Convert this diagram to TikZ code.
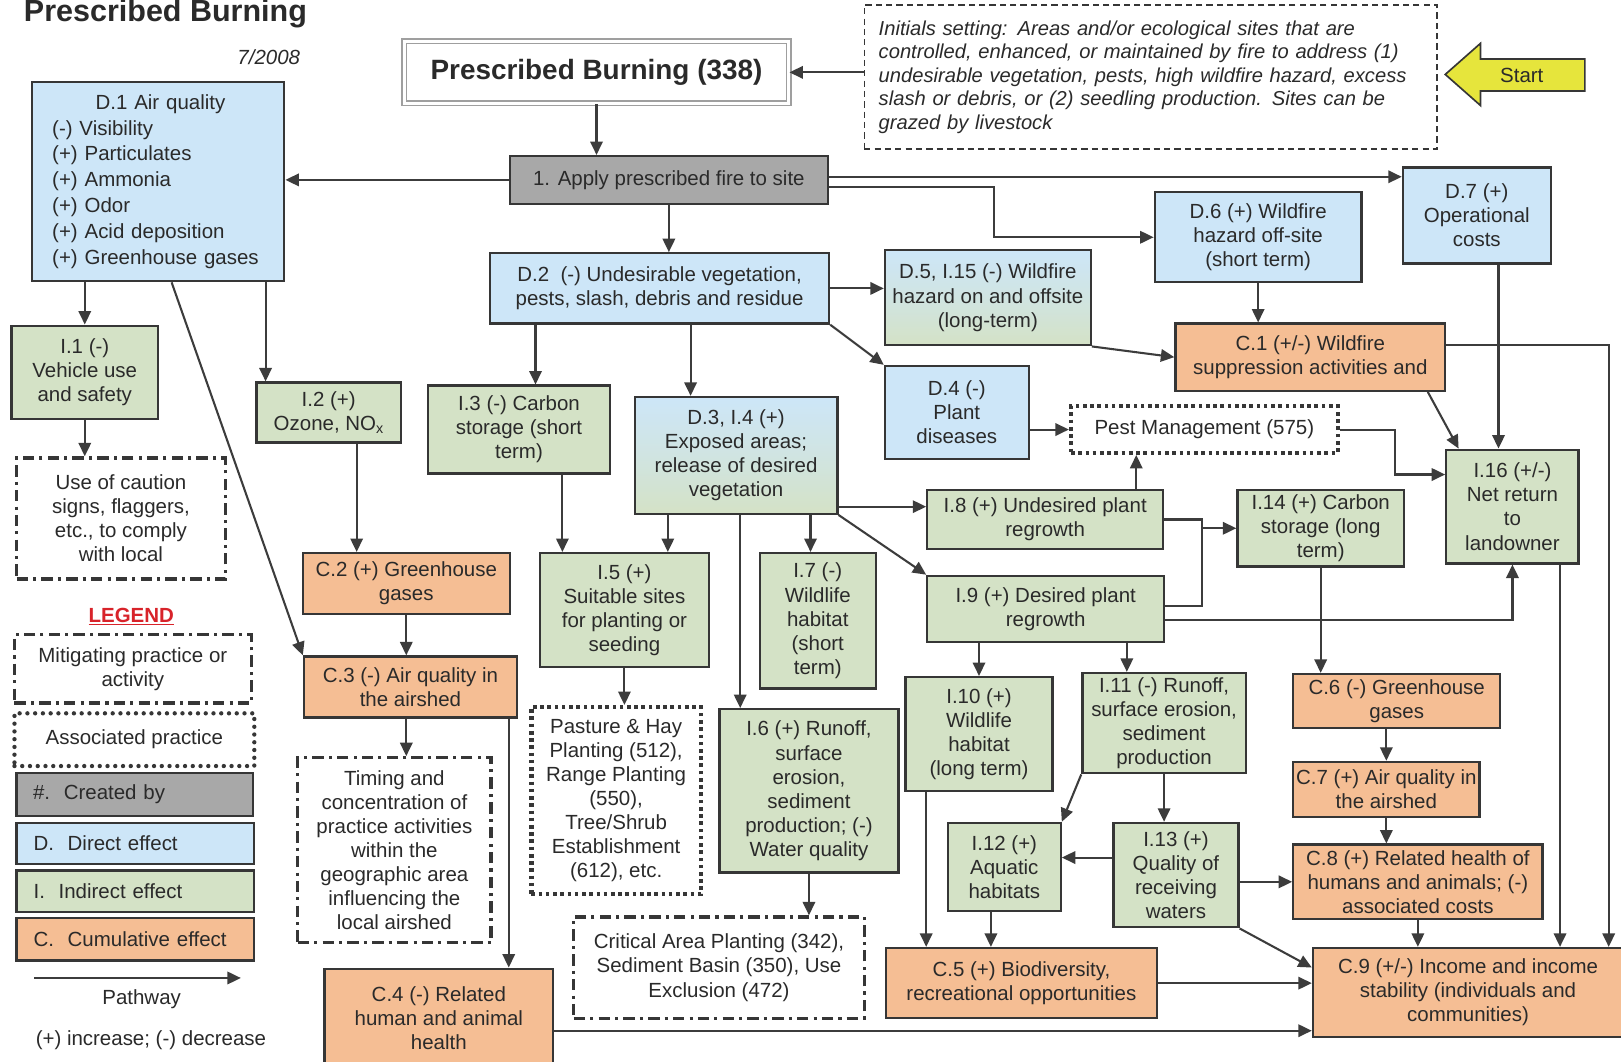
\documentclass[tikz,border=0pt]{standalone}
\usepackage{fontspec}
\setmainfont{Liberation Sans}
\usetikzlibrary{arrows.meta,calc}

\definecolor{blueC}{HTML}{CDE6F8}
\definecolor{greenC}{HTML}{D4E2C6}
\definecolor{orangeC}{HTML}{F5BE94}
\definecolor{grayC}{HTML}{A8A8A8}
\definecolor{edgeC}{HTML}{363636}
\definecolor{inkC}{HTML}{2A2A2A}
\definecolor{lineC}{HTML}{3C3C3C}
\definecolor{startC}{HTML}{E6E53C}
\definecolor{legendred}{HTML}{D8232A}

\newcommand\fs{\fontsize{19.8}{23.3}\selectfont}
% box from its corners: style, name, x1, y1, x2, y2, text
\newcommand\bx[7]{%
  \pgfmathsetmacro\bxw{#5-#3}\pgfmathsetmacro\bxh{#6-#4}%
  \pgfmathsetmacro\bxcx{(#3+#5)/2}\pgfmathsetmacro\bxcy{(#4+#6)/2}%
  \node[#1, minimum width=\bxw pt, minimum height=\bxh pt] (#2) at (\bxcx,\bxcy) {#7};}

\tikzset{
  base/.style={draw=edgeC, line width=2.2pt, inner sep=0pt, align=center, font=\fs, text=inkC},
  dbox/.style={base, fill=blueC},
  ibox/.style={base, fill=greenC},
  cbox/.style={base, fill=orangeC},
  gbox/.style={base, fill=grayC},
  mixbox/.style={base, top color=blueC, bottom color=greenC, middle color=blueC!55!greenC},
  mitbox/.style={base, fill=white, line width=3.2pt, dash pattern=on 11pt off 5pt on 3pt off 5pt},
  assocbox/.style={base, fill=white, line width=4.2pt, dash pattern=on 3.5pt off 3.5pt},
  legassoc/.style={base, fill=white, line width=4.2pt, line cap=round, dash pattern=on 0pt off 7.5pt},
  legtxt/.style={align=left, text width=197pt},
  arr/.style={draw=lineC, line width=2pt, -{Triangle[length=13pt,width=12pt]}},
  link/.style={draw=lineC, line width=2pt},
  plain/.style={font=\fs, text=inkC, inner sep=0pt}
}

\begin{document}
\begin{tikzpicture}[x=1pt, y=-1pt]
\fill[white] (0,0) rectangle (1568,1027);
\useasboundingbox (0,0) rectangle (1568,1027);

% headings
\node[plain, anchor=base west, font=\bfseries\fontsize{29.5}{32}\selectfont] (title) at (23,21) {Prescribed Burning};
\node[plain, anchor=base, font=\itshape\fs] (date) at (260,62) {7/2008};

\node[draw=gray!75, double=white, double distance=3pt, line width=1.3pt, inner sep=0pt,
      minimum width=372pt, minimum height=60pt, text=inkC,
      font=\bfseries\fontsize{27}{30}\selectfont] (pb) at (577,70) {Prescribed Burning (338)};

\node[base, fill=white, line width=1.4pt, dash pattern=on 6pt off 4pt, minimum width=554pt,
      minimum height=139pt, text width=526pt, align=left, font=\itshape\fontsize{19.5}{22.8}\selectfont] (init) at (1113,74.5)
  {Initials setting: Areas and/or ecological sites that are\\controlled, enhanced, or maintained by fire to address (1)\\undesirable vegetation, pests, high wildfire hazard, excess\\slash or debris, or (2) seedling production. Sites can be\\grazed by livestock};

% start arrow
\draw[draw=edgeC, line width=1.6pt, fill=startC, line join=miter]
  (1398,72) -- (1432,42) -- (1432,57) -- (1533,57) -- (1533,88) -- (1432,88) -- (1432,102) -- cycle;
\node[plain] (startlbl) at (1472,73) {Start};

% boxes
\bx{gbox}{apply}{493}{151}{801}{197}{1. Apply prescribed fire to site}
\bx{dbox, align=left, text width=205pt, font=\fontsize{19.8}{25}\selectfont}{d1}{31}{79}{275}{272}{\hspace*{42pt}D.1 Air quality\\(-) Visibility\\(+) Particulates\\(+) Ammonia\\(+) Odor\\(+) Acid deposition\\(+) Greenhouse gases}
\bx{dbox}{d2}{474}{245}{802}{313}{D.2\ \ (-) Undesirable vegetation,\\pests, slash, debris and residue}
\bx{dbox}{d7}{1357}{162}{1500}{255}{D.7 (+)\\Operational\\costs}
\bx{dbox}{d6}{1117}{186}{1317}{273}{D.6 (+) Wildfire\\hazard off-site\\(short term)}
\bx{mixbox}{d5}{856}{242}{1055}{334}{D.5, I.15 (-) Wildfire\\hazard on and offsite\\(long-term)}
\bx{dbox}{d4}{856}{354}{995}{444}{D.4 (-)\\Plant\\diseases}
\bx{cbox}{c1}{1137}{313}{1398}{378}{C.1 (+/-) Wildfire\\suppression activities and}
\bx{assocbox}{pm}{1036}{393}{1294}{438}{Pest Management (575)}
\bx{ibox}{i16}{1399}{435}{1527}{545}{I.16 (+/-)\\Net return\\to\\landowner}
\bx{ibox}{i1}{11}{315}{153}{405}{I.1 (-)\\Vehicle use\\and safety}
\bx{mitbox}{caution}{16}{443}{218}{560}{Use of caution\\signs, flaggers,\\etc., to comply\\with local}
\bx{ibox}{i2}{248}{370}{388}{428}{I.2 (+)\\Ozone, NO\textsubscript{x}}
\bx{ibox}{i3}{414}{373}{590}{458}{I.3 (-) Carbon\\storage (short\\term)}
\bx{mixbox}{d3}{614}{384}{810}{497}{D.3, I.4 (+)\\Exposed areas;\\release of desired\\vegetation}
\bx{cbox}{c2}{293}{535}{493}{594}{C.2 (+) Greenhouse\\gases}
\bx{cbox}{c3}{294}{635}{500}{694}{C.3 (-) Air quality in\\the airshed}
\bx{mitbox}{timing}{288}{733}{475}{912}{Timing and\\concentration of\\practice activities\\within the\\geographic area\\influencing the\\local airshed}
\bx{cbox}{c4}{314}{937}{535}{1032}{C.4 (-) Related\\human and animal\\health}
\bx{ibox}{i5}{522}{535}{686}{645}{I.5 (+)\\Suitable sites\\for planting or\\seeding}
\bx{assocbox}{pasture}{514}{684}{678}{865}{Pasture \& Hay\\Planting (512),\\Range Planting\\(550),\\Tree/Shrub\\Establishment\\(612), etc.}
\bx{ibox}{i7}{735}{535}{847}{666}{I.7 (-)\\Wildlife\\habitat\\(short\\term)}
\bx{ibox}{i6}{696}{686}{869}{844}{I.6 (+) Runoff,\\surface\\erosion,\\sediment\\production; (-)\\Water quality}
\bx{mitbox}{critical}{555}{887}{836}{985}{Critical Area Planting (342),\\Sediment Basin (350), Use\\Exclusion (472)}
\bx{ibox}{i8}{897}{474}{1125}{531}{I.8 (+) Undesired plant\\regrowth}
\bx{ibox}{i9}{897}{557}{1126}{621}{I.9 (+) Desired plant\\regrowth}
\bx{ibox}{i14}{1197}{474}{1358}{548}{I.14 (+) Carbon\\storage (long\\term)}
\bx{ibox}{i10}{876}{655}{1018}{765}{I.10 (+)\\Wildlife\\habitat\\(long term)}
\bx{ibox}{i11}{1047}{651}{1205}{748}{I.11 (-) Runoff,\\surface erosion,\\sediment\\production}
\bx{cbox}{c6}{1251}{652}{1451}{704}{C.6 (-) Greenhouse\\gases}
\bx{cbox}{c7}{1251}{737}{1431}{790}{C.7 (+) Air quality in\\the airshed}
\bx{cbox}{c8}{1251}{817}{1492}{889}{C.8 (+) Related health of\\humans and animals; (-)\\associated costs}
\bx{ibox}{i12}{917}{796}{1026}{881}{I.12 (+)\\Aquatic\\habitats}
\bx{ibox}{i13}{1077}{796}{1198}{897}{I.13 (+)\\Quality of\\receiving\\waters}
\bx{cbox}{c5}{857}{917}{1119}{985}{C.5 (+) Biodiversity,\\recreational opportunities}
\bx{cbox}{c9}{1270}{917}{1570}{1003}{C.9 (+/-) Income and income\\stability (individuals and\\communities)}

% legend
\node[plain, font=\bfseries\fs, text=legendred] (legend) at (127,596) {\underline{LEGEND}};
\bx{mitbox}{lmit}{14}{614}{243}{680}{Mitigating practice or\\activity}
\bx{legassoc}{lassoc}{14}{690}{246}{741}{Associated practice}
\bx{gbox, legtxt}{lcreated}{16}{748}{245}{789}{\#.\ \ Created by}
\bx{dbox, legtxt}{ldirect}{16}{796}{246}{836}{D.\ \ Direct effect}
\bx{ibox, legtxt}{lindirect}{16}{842}{246}{882}{I.\ \ Indirect effect}
\bx{cbox, legtxt}{lcumul}{16}{888}{246}{929}{C.\ \ Cumulative effect}
\coordinate (pw1) at (33,946);
\coordinate (pw2) at (233,946);
\draw[arr] (pw1) -- (pw2);
\node[plain] (pwlbl) at (137,967) {Pathway};
\node[plain] (note) at (146,1006) {(+) increase; (-) decrease};

% pathways: top
\draw[arr] (init.west |- pb.east) -- (pb.east);
\draw[arr] (pb.south) -- (pb.south |- apply.north);
\draw[arr] (apply.west) -- (apply.west -| d1.east);
\draw[arr] (apply.south) -- (apply.south |- d2.north);
\coordinate (a1) at ([yshift=3pt]apply.east);
\draw[arr] (a1) -- (a1 -| d7.west);
\coordinate (a2) at ([yshift=-7pt]apply.east);
\draw[arr] (a2) -- ++(159,0) |- (d6.west);
\draw[arr] (d2.east) -- (d2.east -| d5.west);
\draw[arr] (d2.south east) -- (d4.north west);
\draw[arr] (d6.south) -- (d6.south |- c1.north);
\draw[arr] (d5.south east) -- (c1.west);
\draw[arr] (d4.east |- pm.west) -- (pm.west);

% pathways: right side
\draw[arr] ([xshift=-18pt]c1.south east) -- ([xshift=13pt]i16.north west);
\coordinate (d7o) at ([xshift=21pt]d7.south);
\draw[arr] (d7o) -- (d7o |- i16.north);
\coordinate (i16w) at ([yshift=31pt]i16.west);
\draw[arr] (pm.east) -- ++(53,0) |- (i16w);
\coordinate (i9e) at ([yshift=-11pt]i9.east);
\draw[arr] (i9e) -| (i16.south);
\coordinate (c1e) at ([yshift=12pt]c1.east);
\coordinate (c9ne) at ([xshift=-15pt]c9.north east);
\draw[arr] (c1e) -| (c9ne);
\coordinate (i16o) at ([xshift=46pt]i16.south);
\draw[arr] (i16o) -- (i16o |- c9.north);

% pathways: left side
\draw[arr] (d1.south -| i1.north) -- (i1.north);
\draw[arr] (i1.south) -- (i1.south |- caution.north);
\coordinate (i2in) at ([xshift=10pt]i2.north west);
\draw[arr] (d1.south -| i2in) -- (i2in);
\draw[arr] ([xshift=13pt]d1.south) -- (c3.north west);
\coordinate (i2o) at ([xshift=27pt]i2.south);
\draw[arr] (i2o) -- (i2o |- c2.north);
\draw[arr] (c2.south) -- (c2.south |- c3.north);
\draw[arr] (c3.south -| c2.south) -- (c2.south |- timing.north);
\coordinate (c3o) at ([xshift=-9pt]c3.south east);
\draw[arr] (c3o) -- (c3o |- c4.north);
\coordinate (c4o) at ([yshift=-12.5pt]c4.east);
\draw[arr] (c4o) -- (c4o -| c9.west);

% pathways: middle
\coordinate (i3in) at ([xshift=16pt]i3.north);
\draw[arr] (d2.south -| i3in) -- (i3in);
\coordinate (d3in) at ([xshift=-44pt]d3.north);
\draw[arr] (d2.south -| d3in) -- (d3in);
\coordinate (i3o) at ([xshift=42pt]i3.south);
\draw[arr] (i3o) -- (i3o |- i5.north);
\coordinate (d3a) at ([xshift=-66pt]d3.south);
\draw[arr] (d3a) -- (d3a |- i5.north);
\draw[arr] (i5.south) -- (i5.south |- pasture.north);
\coordinate (d3b) at ([xshift=72pt]d3.south);
\draw[arr] (d3b) -- (d3b |- i7.north);
\coordinate (d3c) at ([xshift=4pt]d3.south);
\draw[arr] (d3c) -- (d3c |- i6.north);
\draw[arr] (i6.south) -- (i6.south |- critical.north);
\coordinate (d3e) at ([yshift=8pt]d3.south east);
\draw[arr] (d3e) -- (d3e -| i8.west);
\draw[arr] (d3.south east) -- (i9.north west);
\coordinate (i8t) at ([xshift=-27pt]i8.north east);
\draw[arr] (i8t) -- (i8t |- pm.south);
\coordinate (jn) at ([xshift=37pt]i8.east);
\draw[arr] (i8.east) -- (jn) |- (i14.west);
\draw[link] ([yshift=3pt]i9.east) -| (jn);
\draw[arr] (i14.south) -- (i14.south |- c6.north);
\draw[arr] (i10.north |- i9.south) -- (i10.north);
\coordinate (i11in) at ([xshift=-36pt]i11.north);
\draw[arr] (i11in |- i9.south) -- (i11in);
\draw[arr] (c7.north |- c6.south) -- (c7.north);
\draw[arr] (c7.south) -- (c7.south |- c8.north);
\draw[arr] (i11.south west) -- (i12.north east);
\draw[arr] (i11.south) -- (i11.south |- i13.north);
\coordinate (i13w) at ([yshift=17pt]i13.west);
\draw[arr] (i13w) -- (i13w -| i12.east);
\draw[arr] (c8.west -| i13.east) -- (c8.west);
\draw[arr] (i13.south east) -- ([yshift=-20pt]c9.north west);
\coordinate (i10o) at ([xshift=21pt]i10.south west);
\draw[arr] (i10o) -- (i10o |- c5.north);
\coordinate (i12o) at ([xshift=-13pt]i12.south);
\draw[arr] (i12o) -- (i12o |- c5.north);
\draw[arr] (c5.east) -- (c5.east -| c9.west);
\draw[arr] (c8.south) -- (c8.south |- c9.north);
\end{tikzpicture}
\end{document}
